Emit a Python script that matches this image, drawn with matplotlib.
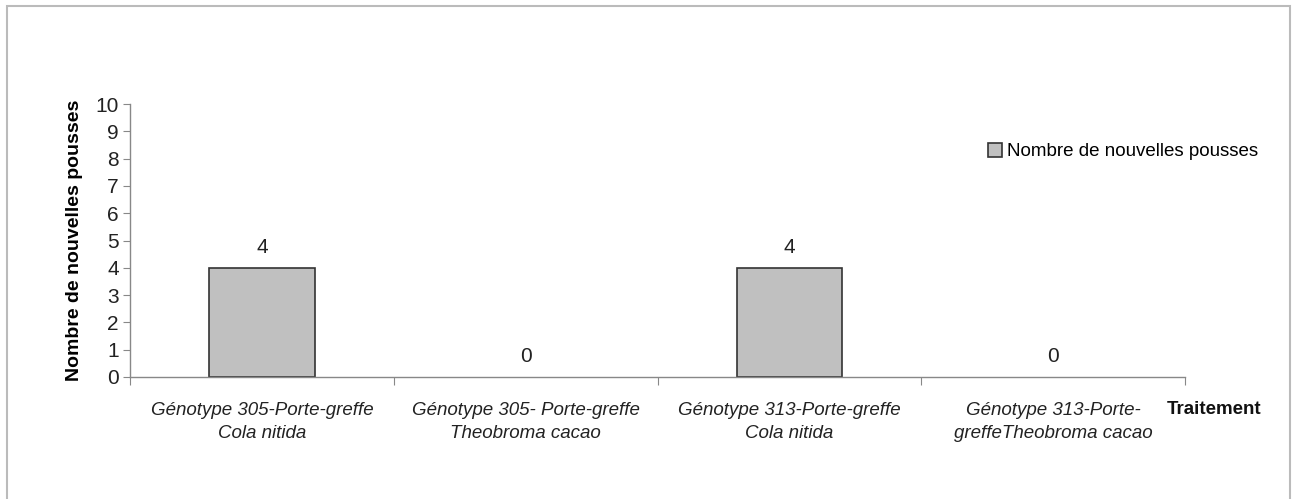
import numpy as np
import matplotlib
matplotlib.use("Agg")
import matplotlib.pyplot as plt
from matplotlib.patches import Rectangle

categories = [
    "Génotype 305-Porte-greffe\nCola nitida",
    "Génotype 305- Porte-greffe\nTheobroma cacao",
    "Génotype 313-Porte-greffe\nCola nitida",
    "Génotype 313-Porte-\ngreffeTheobroma cacao",
]
pousses = [4, 0, 4, 0]
y_ticks = list(range(0, 11))

plt.rcParams["font.family"] = ["Liberation Sans", "DejaVu Sans"]

W, H = 1292, 499
fig = plt.figure(figsize=(W / 100, H / 100), dpi=100)
ax = fig.add_axes([130 / W, 1 - 377 / H, (1185 - 130) / W, (377 - 104) / H])

x = np.arange(len(categories))
# empty categories get no outline, only their value label
edge_w = [1.2 if v > 0 else 0 for v in pousses]
ax.bar(x, pousses, width=0.4, color="#c0c0c0", edgecolor="#333333",
       linewidth=edge_w, label="Nombre de nouvelles pousses")
for xi, v in zip(x, pousses):
    ax.text(xi, v + 0.4, str(v), ha="center", va="bottom", fontsize=15, color="#222222")

ax.set_xlim(-0.5, len(categories) - 0.5)
ax.set_ylim(0, 10)
ax.set_yticks(y_ticks)
ax.set_yticklabels([str(t) for t in y_ticks], fontsize=15, color="#222222")

# category labels centred, tick marks on the boundaries
ax.set_xticks(np.arange(-0.5, len(categories)))
ax.set_xticklabels([])
ax.set_xticks(x, minor=True)
ax.set_xticklabels(categories, minor=True, fontsize=13.5, style="italic",
                   color="#222222", linespacing=1.45)
ax.tick_params(axis="x", which="minor", length=0, pad=18)
ax.tick_params(axis="x", which="major", length=6, color="#888888")
ax.tick_params(axis="y", length=5, color="#888888", pad=3)

for side in ["top", "right"]:
    ax.spines[side].set_visible(False)
for side in ["left", "bottom"]:
    ax.spines[side].set_color("#888888")
    ax.spines[side].set_linewidth(1.0)

ax.set_ylabel("Nombre de nouvelles pousses", fontsize=14, fontweight="bold", labelpad=9)
fig.text(1167 / W, 1 - 409 / H, "Traitement", fontsize=13.5, fontweight="bold",
         ha="left", va="center", color="#111111")

ax.legend(loc="upper left", bbox_to_anchor=((979 - 130) / (1185 - 130), 1 - (134 - 104) / (377 - 104)),
          frameon=False, fontsize=13.5, handlelength=0.7, handleheight=0.7,
          handletextpad=0.3, borderpad=0)

fig.patches.append(Rectangle((7 / W, -0.01), (1290 - 7) / W, 1 - 6 / H + 0.01,
                             transform=fig.transFigure, fill=False,
                             edgecolor="#bbbbbb", linewidth=1.5))

fig.savefig("out.png", dpi=100)
